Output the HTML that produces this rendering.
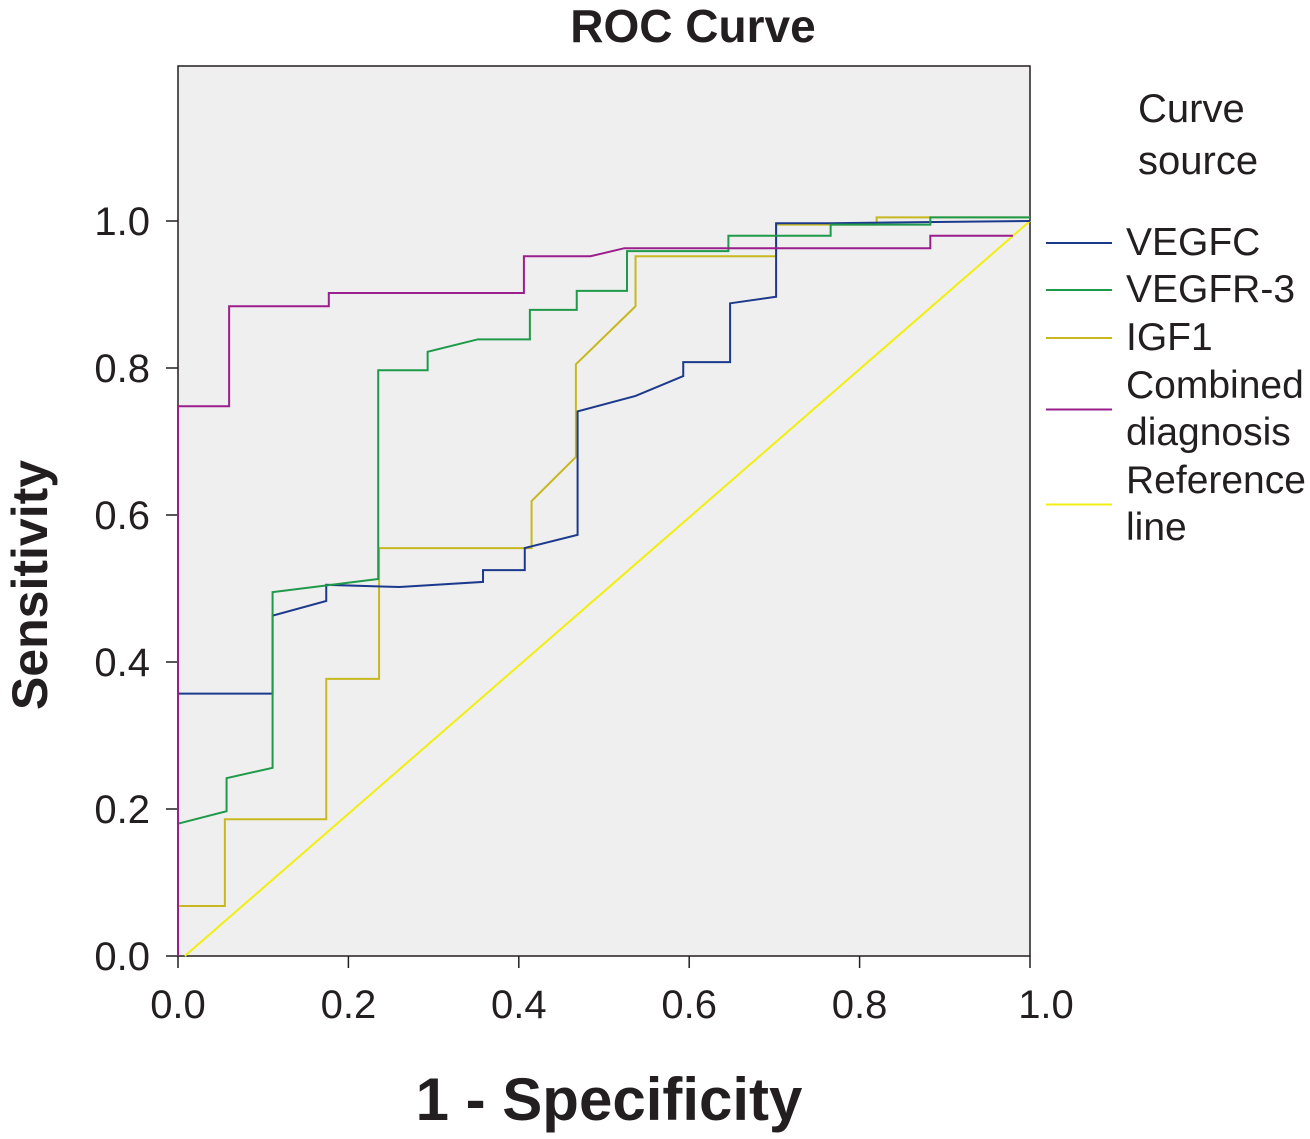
<!DOCTYPE html>
<html><head><meta charset="utf-8"><style>
body{margin:0;background:#fff;}
svg text{font-family:"Liberation Sans",Arial,sans-serif;fill:#231f20;}
</style></head><body>
<svg width="1310" height="1134">
<text x="693" y="42" font-size="46" font-weight="bold" text-anchor="middle">ROC Curve</text>
<rect x="178" y="66" width="852" height="890" fill="#efefef" stroke="#231f20" stroke-width="1.5"/>
<g id="xticks"></g><g id="yticks"></g><g id="series"></g>
<text x="609" y="1120" font-size="60" font-weight="bold" text-anchor="middle">1 - Specificity</text>
<text transform="translate(47,585) rotate(-90)" font-size="50" font-weight="bold" text-anchor="middle">Sensitivity</text>
<g>
<text x="1138" y="122" font-size="40">Curve</text>
<text x="1138" y="174" font-size="40">source</text>
<g id="legend"></g>
</g>
</svg>
<script>
const xTicks=[0,0.2,0.4,0.6,0.8,1.0];
const yTicks=[0,0.2,0.4,0.6,0.8,1.0];
const vegfcX=[0,0,0.111,0.111,0.174,0.174,0.26,0.358,0.358,0.407,0.407,0.469,0.469,0.537,0.593,0.593,0.648,0.648,0.702,0.702,0.766,1];
const vegfcY=[0,0.357,0.357,0.463,0.483,0.505,0.502,0.509,0.525,0.525,0.555,0.573,0.741,0.762,0.789,0.808,0.808,0.888,0.897,0.997,0.997,1];
const vegfr3X=[0,0.057,0.057,0.111,0.111,0.235,0.235,0.293,0.293,0.352,0.413,0.413,0.468,0.468,0.527,0.527,0.646,0.646,0.766,0.766,0.883,0.883,1];
const vegfr3Y=[0.18,0.197,0.242,0.256,0.495,0.513,0.797,0.797,0.822,0.839,0.839,0.879,0.879,0.905,0.905,0.959,0.959,0.98,0.98,0.995,0.995,1.005,1.005];
const igf1X=[0,0,0.055,0.055,0.174,0.174,0.236,0.236,0.415,0.415,0.467,0.467,0.537,0.537,0.702,0.702,0.82,0.82,1];
const igf1Y=[0.01,0.068,0.068,0.186,0.186,0.377,0.377,0.555,0.555,0.619,0.679,0.805,0.884,0.952,0.952,0.995,0.995,1.005,1.005];
const combX=[0,0,0.06,0.06,0.177,0.177,0.406,0.406,0.484,0.524,0.883,0.883,0.98];
const combY=[0,0.748,0.748,0.884,0.884,0.902,0.902,0.952,0.952,0.963,0.963,0.98,0.98];
const refX=[0.008,1];
const refY=[0,1];
const seriesNames=["VEGFC","VEGFR-3","IGF1","Combined diagnosis","Reference line"];
const seriesColors=["#1c3a8c","#1f9a4a","#c8b820","#9a1f8c","#f2ee10"];
const sx=v=>178+v*852, sy=v=>956-v*735;
const NS="http://www.w3.org/2000/svg";
const xt=document.getElementById('xticks'), yt=document.getElementById('yticks');
xTicks.forEach(t=>{
 const l=document.createElementNS(NS,'line');
 l.setAttribute('x1',sx(t));l.setAttribute('x2',sx(t));l.setAttribute('y1',956);l.setAttribute('y2',968);l.setAttribute('stroke','#231f20');l.setAttribute('stroke-width',1.5);
 
 
 xt.appendChild(l);
 const tx=document.createElementNS(NS,'text');
 tx.setAttribute('x',sx(t)+(t==1?16:0));tx.setAttribute('y',1018);tx.setAttribute('font-size',40);tx.setAttribute('text-anchor','middle');
 tx.textContent=t.toFixed(1);
 
 
 xt.appendChild(tx);
});
yTicks.forEach(t=>{
 const l=document.createElementNS(NS,'line');
 l.setAttribute('x1',166);l.setAttribute('x2',178);l.setAttribute('y1',sy(t));l.setAttribute('y2',sy(t));l.setAttribute('stroke','#231f20');l.setAttribute('stroke-width',1.5);
 
 
 yt.appendChild(l);
 const tx=document.createElementNS(NS,'text');
 tx.setAttribute('x',150);tx.setAttribute('y',sy(t)+14);tx.setAttribute('font-size',40);tx.setAttribute('text-anchor','end');
 tx.textContent=t.toFixed(1);
 
 
 yt.appendChild(tx);
});
const data=[[vegfcX,vegfcY],[vegfr3X,vegfr3Y],[igf1X,igf1Y],[combX,combY],[refX,refY]];
const sg=document.getElementById('series');
[4,2,0,1,3].forEach(i=>{
 const [X,Y]=data[i];
 const p=document.createElementNS(NS,'polyline');
 p.setAttribute('points',X.map((x,j)=>sx(x)+','+sy(Y[j])).join(' '));
 p.setAttribute('fill','none');p.setAttribute('stroke',seriesColors[i]);p.setAttribute('stroke-width',2);
 
 
 sg.appendChild(p);
});
const lg=document.getElementById('legend');
const legY=[[255],[302],[350],[398,445],[493,540]];
seriesNames.forEach((n,i)=>{
 const rows=legY[i];
 const ly=rows.length>1?(rows[0]+rows[1])/2-12:rows[0]-12;
 const l=document.createElementNS(NS,'line');
 l.setAttribute('x1',1046);l.setAttribute('x2',1112);l.setAttribute('y1',ly);l.setAttribute('y2',ly);l.setAttribute('stroke',seriesColors[i]);l.setAttribute('stroke-width',2);
 
 
 lg.appendChild(l);
 const words=rows.length>1?n.split(' '):[n];
 words.forEach((w,k)=>{
  const t=document.createElementNS(NS,'text');
  t.setAttribute('x',1126);t.setAttribute('y',rows[k]);t.setAttribute('font-size',39);
  t.textContent=w;
  
  
  lg.appendChild(t);
 });
});
</script>
</body></html>
